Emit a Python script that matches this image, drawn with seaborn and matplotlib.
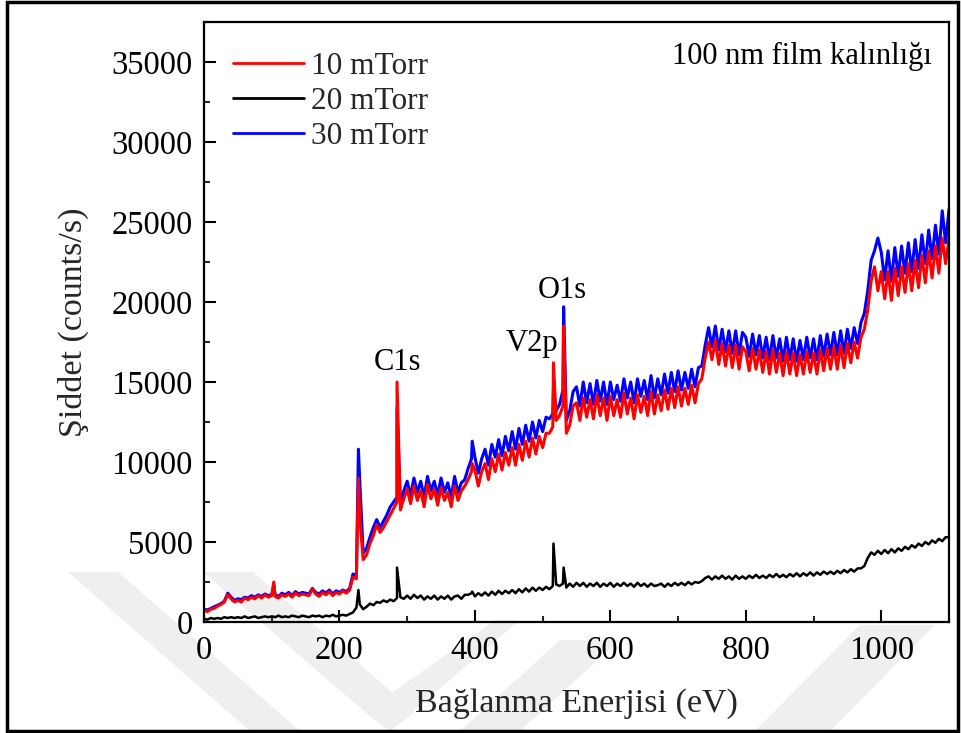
import numpy as np
import pandas as pd
import matplotlib
matplotlib.use("Agg")
import matplotlib.pyplot as plt
from matplotlib.patches import Polygon, Rectangle
from matplotlib.lines import Line2D
from matplotlib.ticker import MultipleLocator
import seaborn as sns

# Binding energy grid of the survey scans (eV), 5 eV spacing
energy_step = 5
energy_max = 1100

# Survey intensities (counts/s) on the 5 eV grid
red_10mTorr = [
    750, 650, 800, 850, 1000, 1100, 1250, 1700, 1450, 1250, 1350, 1250, 1500, 1400, 1550, 1450, 1650, 1500, 1700, 1550,
    1650, 1600, 1500, 1700, 1600, 1750, 1550, 1800, 1650, 1750, 1700, 1650, 2050, 1750, 1600, 1850, 1700, 1900, 1650, 1850,
    1750, 1950, 1800, 2000, 2800, 2700, 6500, 3900, 4200, 4900, 5400, 6100, 5600, 5900, 6300, 6700, 7100, 7500, 7000, 7700,
    8300, 7400, 8500, 7600, 8200, 7200, 8600, 7700, 8300, 7300, 8400, 7600, 8100, 7200, 8500, 7600, 8200, 8500, 8900, 9400,
    9500, 8500, 9400, 9900, 8900, 10200, 9400, 10500, 9500, 10600, 9800, 10900, 9800, 11100, 10100, 11300, 10300, 11500, 10500, 11600,
    10900, 11800, 11800, 12200, 12600, 12900, 13500, 11800, 12300, 13500, 13700, 12600, 14000, 12800, 13900, 12700, 14200, 12900, 14000, 12600,
    14100, 12900, 13900, 12800, 14300, 13000, 14000, 12700, 14200, 13100, 14100, 12900, 14400, 13000, 14200, 13200, 14500, 13300, 14600, 13400,
    14700, 13500, 14600, 13600, 14800, 13700, 14900, 15200, 16500, 17500, 16400, 17600, 16100, 17400, 16000, 17300, 15900, 17300, 15800, 17200,
    16900, 15700, 17100, 15800, 17000, 15600, 16900, 15500, 17000, 15600, 16800, 15400, 16900, 15500, 16800, 15400, 16700, 15500, 16900, 15600,
    16800, 15500, 17000, 15700, 17100, 15800, 17200, 15800, 17300, 15900, 17400, 16200, 17500, 16500, 17800, 18300, 19500, 21300, 22200, 20700,
    21900, 20200, 21900, 20100, 22100, 20400, 22200, 20600, 22400, 20700, 22600, 20900, 22900, 21200, 23200, 21500, 23500, 21800, 24000, 22400,
    24000,
]

black_20mTorr = [
    200, 150, 250, 200, 250, 200, 300, 250, 300, 250, 300, 250, 350, 250, 300, 350, 250, 300, 350, 300,
    350, 300, 400, 300, 350, 300, 400, 350, 300, 400, 350, 300, 400, 350, 400, 300, 400, 350, 450, 350,
    400, 450, 400, 500, 600, 900, 1100, 800, 950, 1150, 1050, 1250, 1200, 1350, 1250, 1400, 1300, 1500, 1550, 1450,
    1650, 1450, 1700, 1500, 1650, 1400, 1600, 1450, 1650, 1400, 1600, 1450, 1650, 1400, 1600, 1650, 1450, 1700, 1700, 1800,
    1600, 1800, 1650, 1850, 1650, 1900, 1700, 1950, 1750, 1950, 1800, 2000, 1800, 2050, 1850, 2100, 1900, 2150, 1950, 2150,
    2000, 2200, 2050, 2250, 2350, 2250, 2400, 2150, 2400, 2200, 2450, 2250, 2450, 2200, 2400, 2250, 2450, 2200, 2400, 2250,
    2450, 2200, 2400, 2250, 2450, 2250, 2400, 2200, 2450, 2250, 2400, 2200, 2400, 2250, 2300, 2400, 2200, 2400, 2250, 2450,
    2300, 2450, 2300, 2500, 2350, 2500, 2450, 2550, 2750, 2850, 2650, 2850, 2700, 2900, 2700, 2850, 2650, 2900, 2700, 2850,
    2700, 2900, 2750, 2950, 2750, 2900, 2750, 2950, 2800, 3000, 2800, 2950, 2800, 3000, 2850, 3050, 2850, 3050, 2900, 3100,
    2900, 3100, 2950, 3150, 3000, 3150, 3000, 3200, 3050, 3250, 3100, 3300, 3150, 3350, 3350, 3500, 4000, 4350, 4200, 4450,
    4250, 4500, 4300, 4550, 4350, 4600, 4450, 4700, 4550, 4800, 4650, 4900, 4750, 5000, 4850, 5100, 4950, 5200, 5050, 5300,
    5300,
]

blue_30mTorr = [
    800, 750, 850, 950, 1050, 1150, 1300, 1800, 1550, 1350, 1450, 1400, 1550, 1500, 1650, 1550, 1700, 1600, 1750, 1650,
    1700, 1700, 1600, 1800, 1700, 1850, 1650, 1900, 1750, 1850, 1800, 1750, 2100, 1850, 1750, 1950, 1800, 2000, 1750, 1950,
    1850, 2000, 1900, 2100, 3000, 2900, 8800, 4300, 4600, 5300, 5900, 6400, 5900, 6300, 6700, 7200, 7500, 7800, 7400, 8200,
    8800, 7900, 9000, 8100, 8800, 7800, 9100, 8200, 8800, 7900, 9000, 8100, 8700, 7800, 9100, 8100, 8700, 8900, 9600, 10200,
    10300, 9300, 10200, 10800, 9800, 11100, 10300, 11400, 10400, 11600, 10700, 11900, 10800, 12100, 11100, 12300, 11300, 12500, 11500, 12600,
    11900, 12800, 12700, 13000, 13200, 13600, 14500, 12600, 13200, 14400, 14700, 13500, 15000, 13700, 14900, 13600, 15100, 13800, 15000, 13600,
    15000, 13900, 14800, 13800, 15200, 14000, 15000, 13700, 15200, 14100, 15100, 13900, 15400, 14000, 15200, 14200, 15500, 14300, 15600, 14400,
    15700, 14500, 15600, 14600, 15800, 14700, 15900, 16000, 17300, 18400, 17200, 18500, 17000, 18300, 16900, 18200, 16800, 18200, 16700, 18100,
    17800, 16600, 18000, 16700, 17900, 16500, 17800, 16400, 17900, 16500, 17700, 16300, 17800, 16400, 17700, 16300, 17600, 16400, 17800, 16500,
    17700, 16400, 17900, 16600, 18000, 16700, 18100, 16700, 18200, 16800, 18300, 17100, 18400, 17400, 18700, 19300, 20700, 22600, 23200, 24000,
    23100, 21400, 23200, 21300, 23400, 21600, 23500, 21800, 23700, 21900, 23900, 22100, 24200, 22400, 24500, 22700, 24800, 23000, 25700, 23700,
    25800,
]

# Narrow photoemission lines, placed between grid points
peak_energy = [103, 228, 285, 396, 516, 531]
red_peaks = [2500, 9000, 15000, 9900, 16200, 18500]
black_peaks = [330, 2000, 3400, 1900, 4900, 3400]
blue_peaks = [2300, 10800, 13400, 11300, 14500, 19700]

series_names = ["10 mTorr", "20 mTorr", "30 mTorr"]
series_colors = ["#ff0000", "#000000", "#0000ff"]
series_widths = [2.2, 1.8, 2.2]

peak_labels = ["C1s", "V2p", "O1s"]
peak_label_x = [285, 484, 529]
peak_label_y = [16250, 17400, 20750]

grid = list(range(0, energy_max + 1, energy_step))


def build_frame(values, peaks):
    df = pd.DataFrame({"E": grid + peak_energy, "I": list(values) + list(peaks)})
    return df.sort_values("E").reset_index(drop=True)


frames = {
    "10 mTorr": build_frame(red_10mTorr, red_peaks),
    "20 mTorr": build_frame(black_20mTorr, black_peaks),
    "30 mTorr": build_frame(blue_30mTorr, blue_peaks),
}

sns.set_theme(style="white")
plt.rcParams["font.family"] = ["Liberation Serif", "DejaVu Serif"]

W, H = 962, 733
fig = plt.figure(figsize=(W / 100, H / 100), dpi=100)
fig.patch.set_facecolor("white")


def fx(px):
    return px / W


def fy(py):
    return 1 - py / H


# faint diagonal watermark bands in the lower part of the page
bands = [
    [(68, 572), (118, 572), (300, 731), (250, 731)],
    [(203, 572), (253, 572), (415, 712), (390, 731), (365, 712)],
    [(365, 712), (390, 731), (520, 620), (495, 620)],
    [(560, 640), (620, 640), (520, 731), (460, 731)],
    [(860, 625), (935, 625), (830, 731), (755, 731)],
]
for b in bands:
    fig.patches.append(Polygon([(fx(x), fy(y)) for x, y in b], closed=True,
                               transform=fig.transFigure, facecolor="#efefef",
                               edgecolor="none", zorder=0))

# page frame
fig.patches.append(Rectangle((fx(7), fy(731)), fx(951), (731 - 2) / H,
                             transform=fig.transFigure, fill=False,
                             edgecolor="black", linewidth=2.5, zorder=5))

ax = fig.add_axes([fx(204), fy(622), fx(949 - 204), (622 - 22) / H])
ax.patch.set_alpha(0)
ax.set_zorder(2)

draw_order = ["30 mTorr", "20 mTorr", "10 mTorr"]
for name in draw_order:
    i = series_names.index(name)
    sns.lineplot(data=frames[name], x="E", y="I", color=series_colors[i],
                 linewidth=series_widths[i], ax=ax, estimator=None, sort=True,
                 legend=False)

ax.set_xlim(0, 1100)
ax.set_ylim(0, 37500)
ax.xaxis.set_major_locator(MultipleLocator(200))
ax.xaxis.set_minor_locator(MultipleLocator(100))
ax.yaxis.set_major_locator(MultipleLocator(5000))
ax.yaxis.set_minor_locator(MultipleLocator(2500))
ax.tick_params(axis="both", which="major", direction="in", length=8.5, width=1.5,
               labelsize=23.5, colors="black", bottom=True, left=True)
ax.tick_params(axis="x", which="major", pad=10)
ax.tick_params(axis="y", which="major", pad=8)
ax.tick_params(axis="both", which="minor", direction="in", length=4.5, width=1.5,
               bottom=True, left=True)
for s in ax.spines.values():
    s.set_visible(True)
    s.set_color("black")
    s.set_linewidth(1.6)

ax.set_xlabel("Bağlanma Enerjisi (eV)", fontsize=24.5, labelpad=16)
ax.set_ylabel("Şiddet (counts/s)", fontsize=24.5, labelpad=16)

for lab, lx, ly in zip(peak_labels, peak_label_x, peak_label_y):
    ax.text(lx, ly, lab, fontsize=22, ha="center", va="center", color="black")

ax.text(0.977, 0.942, "100 nm film kalınlığı", transform=ax.transAxes,
        fontsize=22, ha="right", va="center", color="black")

handles = [Line2D([0], [0], color=c, lw=2) for c in series_colors]
ax.legend(handles, series_names, loc="upper left", frameon=False, fontsize=22.5,
          handlelength=2.27, handletextpad=0.22, labelspacing=0.2,
          borderaxespad=0.2, bbox_to_anchor=(0.014, 0.982))

fig.savefig("out.png", dpi=100, facecolor="white")
